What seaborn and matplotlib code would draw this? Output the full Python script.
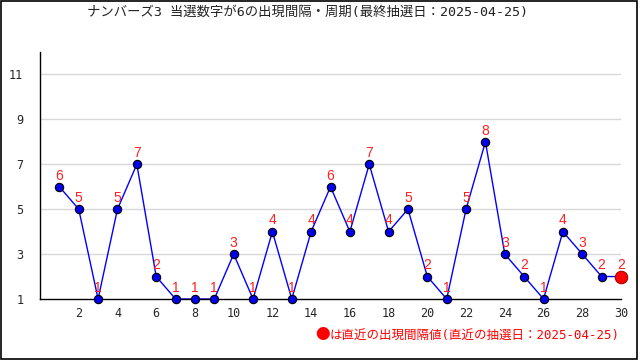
import matplotlib
matplotlib.use("Agg")
import matplotlib.pyplot as plt
import seaborn as sns
import pandas as pd
from matplotlib.patches import Rectangle

draw_no = list(range(1, 31))
intervals = [6, 5, 1, 5, 7, 2, 1, 1, 1, 3, 1, 4, 1, 4, 6, 4, 7, 4, 5, 2, 1, 5, 8, 3, 2, 1, 4, 3, 2, 2]
y_ticks = [1, 3, 5, 7, 9, 11]
x_ticklabels = [2, 4, 6, 8, 10, 12, 14, 16, 18, 20, 22, 24, 26, 28, 30]
title = "ナンバーズ3 当選数字が6の出現間隔・周期(最終抽選日：2025-04-25)"
footer_mark = "●"
footer = "は直近の出現間隔値(直近の抽選日：2025-04-25)"

sns.set_theme(style="white")
mono = ['DejaVu Sans Mono', 'Noto Sans CJK JP']
plt.rcParams['font.family'] = mono

df = pd.DataFrame({"x": draw_no, "y": intervals})

fig = plt.figure(figsize=(6.4, 3.6), dpi=100)
ax = fig.add_axes([40/640, 1-299/360, (621-40)/640, (299-52)/360])

for yv in y_ticks[1:]:
    ax.axhline(yv, color="#d8d8d8", lw=1, zorder=0)

sns.lineplot(data=df, x="x", y="y", ax=ax, color="#0000ff", lw=1, zorder=2)
sns.scatterplot(data=df.iloc[:-1], x="x", y="y", ax=ax, color="#0000ee",
                edgecolor="black", linewidth=0.8, s=36, zorder=3, clip_on=False)
sns.scatterplot(data=df.iloc[-1:], x="x", y="y", ax=ax, color="#ff0000",
                edgecolor="#aa0000", linewidth=0.8, s=80, zorder=4, clip_on=False)

for xv, yv in zip(draw_no, intervals):
    ax.annotate(str(yv), (xv, yv), xytext=(0, 3), textcoords="offset points",
                ha="center", va="bottom", color="#ff2020", fontsize=10,
                family=['Liberation Sans', 'DejaVu Sans'], zorder=5, annotation_clip=False)

ax.set_xlim(0, 30)
ax.set_ylim(1, 12)
ax.set_yticks(y_ticks)
ax.set_yticklabels([str(v) for v in y_ticks], fontsize=8.5)
ax.set_xticks(draw_no)
ax.set_xticklabels([str(v) if v in x_ticklabels else "" for v in draw_no], fontsize=8.5)
ax.tick_params(axis="x", direction="in", length=4, width=1, color="black", pad=6)
ax.tick_params(axis="y", length=0, pad=12)
ax.set_xlabel("")
ax.set_ylabel("")
for s in ["top", "right"]:
    ax.spines[s].set_visible(False)
for s in ["left", "bottom"]:
    ax.spines[s].set_color("black")
    ax.spines[s].set_linewidth(1)

fig.text(0.48, 1-12/360, title, ha="center", va="center", fontsize=9.6, color="#222222")
t = fig.text(620/640, 1-335/360, footer, ha="right", va="center", fontsize=9, color="#ff0000")
fig.canvas.draw()
bb = t.get_window_extent()
fig.text(bb.x0 / 640, 1-335/360, footer_mark, ha="right", va="center", fontsize=10.5,
         color="#ff0000", family=['Noto Sans CJK JP', 'DejaVu Sans'])
fig.patches.append(Rectangle((0.002, 0.003), 0.994, 0.994, transform=fig.transFigure,
                             fill=False, edgecolor="black", lw=1.2))

fig.savefig("out.png", dpi=100)
